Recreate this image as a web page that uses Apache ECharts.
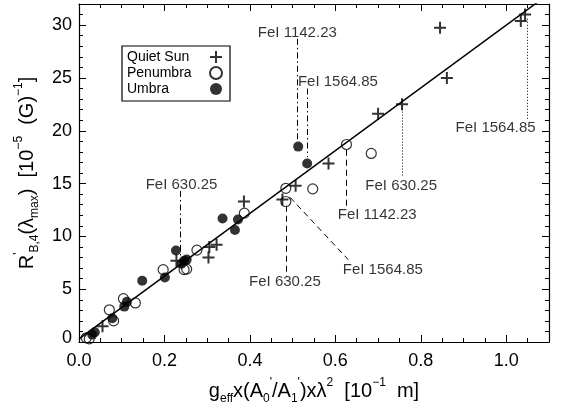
<!DOCTYPE html>
<html>
<head>
<meta charset="utf-8">
<script src="https://cdn.jsdelivr.net/npm/echarts@6/dist/echarts.min.js"></script>
<style>
  html, body { margin: 0; padding: 0; background: #fff; }
  #chart { width: 568px; height: 410px; }
</style>
</head>
<body>
<div id="chart"></div>
<script>
// Measured response R'_B,4 against g_eff x (A0'/A1') x lambda^2
const quietSun = [
  [1.044, 31.0], [1.034, 30.4], [0.845, 29.75], [0.861, 25.0], [0.756, 22.5],
  [0.700, 21.6], [0.584, 16.9], [0.507, 14.8], [0.476, 13.5], [0.386, 13.3],
  [0.322, 9.2], [0.305, 9.0], [0.303, 8.0], [0.228, 7.7], [0.055, 1.5]
];
const penumbra = [
  [0.626, 18.7], [0.684, 17.85], [0.547, 14.5], [0.484, 14.55], [0.484, 13.3],
  [0.387, 12.2], [0.276, 8.7], [0.246, 6.85], [0.252, 6.9], [0.197, 6.85],
  [0.132, 3.7], [0.104, 4.1], [0.071, 3.05], [0.081, 2.0], [0.017, 0.4], [0.024, 0.3]
];
const umbra = [
  [0.513, 18.5], [0.534, 16.9], [0.336, 11.7], [0.372, 11.6], [0.365, 10.6],
  [0.227, 8.66], [0.240, 7.4], [0.246, 7.7], [0.252, 7.8], [0.201, 6.1],
  [0.148, 5.8], [0.112, 3.8], [0.106, 3.35], [0.078, 2.25], [0.037, 0.93], [0.031, 0.7]
];
// linear fit through all points
const fitLine = [[0, 0.3], [1.1, 32.97]];

// spectral line annotations: text, x, y
const noteLabels = [
  ['FeI 630.25', 0.240, 14.9],
  ['FeI 1142.23', 0.511, 29.3],
  ['FeI 1564.85', 0.606, 24.6],
  ['FeI 630.25', 0.754, 14.8],
  ['FeI 1564.85', 0.975, 20.3],
  ['FeI 1142.23', 0.698, 12.0],
  ['FeI 630.25', 0.482, 5.67],
  ['FeI 1564.85', 0.711, 6.85]
];
// leader lines: from [x, y], to [x, y], dash style
const noteLines = [
  [[0.237, 14.3], [0.237, 8.0], 'dashdot'],
  [[0.511, 28.7], [0.511, 19.2], 'dashdot'],
  [[0.534, 24.0], [0.534, 17.5], 'dashdot'],
  [[0.756, 22.1], [0.756, 15.6], 'dot'],
  [[1.049, 30.6], [1.049, 21.0], 'dot'],
  [[0.626, 18.2], [0.626, 12.6], 'dash'],
  [[0.484, 12.9], [0.484, 6.2], 'dash'],
  [[0.494, 13.7], [0.630, 7.8], 'dash']
];

const FONT = "'Liberation Sans', Arial, sans-serif";
const dashTypes = { dashdot: [6, 3, 1.5, 3], dot: [1, 2], dash: [6, 4] };
const plusPath = 'path://M5,0H7V5H12V7H7V12H5V7H0V5H5Z';

const supSub = {
  s: { fontSize: 12, lineHeight: 12, verticalAlign: 'bottom', color: '#000', fontFamily: FONT },
  p: { fontSize: 12, lineHeight: 12, verticalAlign: 'top', color: '#000', fontFamily: FONT }
};

function frameAxis(extra) {
  return Object.assign({
    type: 'value',
    axisLine: { show: true, onZero: false, lineStyle: { color: '#000', width: 1.2 } },
    axisTick: { show: true, inside: true, length: 7, lineStyle: { color: '#000', width: 1 } },
    minorTick: { show: true, length: 4, lineStyle: { color: '#000', width: 1 } },
    splitLine: { show: false },
    minorSplitLine: { show: false }
  }, extra);
}

const chart = echarts.init(document.getElementById('chart'), null, { renderer: 'canvas' });

chart.setOption({
  animation: false,
  backgroundColor: '#fff',
  grid: { left: 79, right: 19, top: 4, bottom: 64 },
  legend: {
    orient: 'vertical',
    left: 122,
    top: 46,
    align: 'right',
    itemGap: 0,
    itemWidth: 12,
    itemHeight: 12,
    padding: [3, 7, 4, 5],
    borderColor: '#000',
    borderWidth: 1.2,
    data: ['Quiet Sun', 'Penumbra', 'Umbra'],
    formatter: name => '{n|' + name + '}',
    textStyle: {
      color: '#000', fontSize: 14, fontFamily: FONT, lineHeight: 16,
      rich: { n: { width: 78, lineHeight: 16, align: 'left', fontSize: 14, color: '#000', fontFamily: FONT } }
    }
  },
  xAxis: [
    frameAxis({
      position: 'bottom', min: 0, max: 1.1, interval: 0.2,
      minorTick: { show: true, splitNumber: 4, length: 4, lineStyle: { color: '#000', width: 1 } },
      axisLabel: {
        color: '#000', fontSize: 18, fontFamily: FONT, margin: 10,
        showMaxLabel: false, formatter: v => v.toFixed(1)
      },
      name: 'g{s|eff}x(A{s|0}{p|\'}/A{s|1}{p|\'})xλ{p|2}  [10{p|−1}  m]',
      nameLocation: 'middle',
      nameGap: 35,
      nameTextStyle: { color: '#000', fontSize: 20, fontFamily: FONT, lineHeight: 28, rich: supSub }
    }),
    frameAxis({
      position: 'top', min: 0, max: 1.1, interval: 0.2,
      minorTick: { show: true, splitNumber: 4, length: 4, lineStyle: { color: '#000', width: 1 } },
      axisLabel: { show: false }
    })
  ],
  yAxis: [
    frameAxis({
      position: 'left', min: 0, max: 32, interval: 5,
      minorTick: { show: true, splitNumber: 5, length: 4, lineStyle: { color: '#000', width: 1 } },
      axisLabel: {
        color: '#000', fontSize: 18, fontFamily: FONT, margin: 7, showMaxLabel: false,
        formatter: v => (v === 0 ? '{z|0}' : String(v)),
        rich: { z: { fontSize: 18, color: '#000', fontFamily: FONT, padding: [0, 0, 7, 0] } }
      },
      name: 'R{p|\'}{s|B,4}(λ{s|max})  [10{p|−5}  (G){p|−1}]',
      nameLocation: 'middle',
      nameRotate: 90,
      nameGap: 38,
      nameTextStyle: { color: '#000', fontSize: 20, fontFamily: FONT, lineHeight: 28, rich: supSub }
    }),
    frameAxis({
      position: 'right', min: 0, max: 32, interval: 5,
      minorTick: { show: true, splitNumber: 5, length: 4, lineStyle: { color: '#000', width: 1 } },
      axisLabel: { show: false }
    })
  ],
  series: [
    {
      name: 'fit',
      type: 'line',
      data: fitLine,
      symbol: 'none',
      clip: true,
      silent: true,
      lineStyle: { color: '#000', width: 1.5 },
      z: 2
    },
    {
      name: 'notes',
      type: 'scatter',
      data: noteLabels.map(n => ({ name: n[0], value: [n[1], n[2]] })),
      symbolSize: 0,
      silent: true,
      label: {
        show: true, position: 'inside', formatter: '{b}',
        color: '#000', fontSize: 15, fontFamily: FONT
      },
      markLine: {
        silent: true,
        symbol: ['none', 'none'],
        label: { show: false },
        animation: false,
        data: noteLines.map(l => [
          { coord: l[0], lineStyle: { color: '#000', width: 1, type: dashTypes[l[2]] } },
          { coord: l[1] }
        ])
      },
      z: 3
    },
    {
      name: 'Quiet Sun',
      type: 'scatter',
      data: quietSun,
      symbol: plusPath,
      symbolSize: 12,
      itemStyle: { color: '#000' },
      z: 5
    },
    {
      name: 'Penumbra',
      type: 'scatter',
      data: penumbra,
      symbol: 'circle',
      symbolSize: 10,
      itemStyle: { color: 'rgba(255,255,255,0)', borderColor: '#000', borderWidth: 1.2 },
      z: 5
    },
    {
      name: 'Umbra',
      type: 'scatter',
      data: umbra,
      symbol: 'circle',
      symbolSize: 10,
      itemStyle: { color: '#000' },
      z: 5
    }
  ]
});
</script>
</body>
</html>
